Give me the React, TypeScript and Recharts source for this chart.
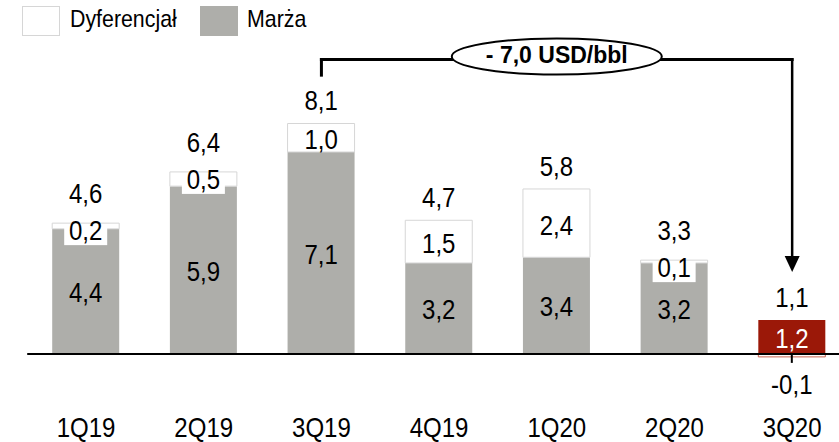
import React from 'react';
import { BarChart, Bar, XAxis, YAxis, Cell, LabelList, ReferenceLine, ReferenceDot } from 'recharts';

// ---- data ----
const categories = ['1Q19', '2Q19', '3Q19', '4Q19', '1Q20', '2Q20', '3Q20'];
const marza = [4.4, 5.9, 7.1, 3.2, 3.4, 3.2, 1.2];
const dyferencjal = [0.2, 0.5, 1.0, 1.5, 2.4, 0.1, -0.1];
const seriesNames = { dyf: 'Dyferencjał', marza: 'Marża' };
const annotationText = '- 7,0 USD/bbl';
const highlightIndex = 6;
const bracketFrom = '3Q19';
const bracketTo = '3Q20';
const ellipseAt = '1Q20';

const data = categories.map((c, i) => ({ quarter: c, marza: marza[i], dyf: dyferencjal[i] }));

// ---- styling ----
const FONT = "'Liberation Sans', Arial, sans-serif";
const SQUISH = 0.89;
const GRAY = '#AEAEAA';
const RED = '#9B1808';
const RED_EDGE = '#C9604E';
const WHITE_EDGE = '#D6D6D6';

// annotation levels (data units)
const BRACKET_Y = 10.35;
const BRACKET_LEFT_END = 9.8;
const ARROW_BASE = 3.44;
const ARROW_TIP = 2.88;

const fmt = (v: number) => v.toFixed(1).replace('.', ',').replace('-0,', '-0,');

function SText({ x, cy, text, size = 27, fill = '#000', weight = 'normal', anchor = 'middle', squish = SQUISH }: any) {
  const baseline = cy + 0.358 * size;
  return (
    <text
      transform={`translate(${x},${baseline}) scale(${squish},1)`}
      textAnchor={anchor}
      fontFamily={FONT}
      fontSize={size}
      fill={fill}
      fontWeight={weight}
    >
      {text}
    </text>
  );
}

const MarzaLabel = (props: any) => {
  const { x, y, width, height, index } = props;
  const v = marza[index];
  const d = dyferencjal[index];
  const top = Math.min(y, y + height);
  const h = Math.abs(height);
  const cx = x + width / 2;
  const ppu = h / Math.abs(v);
  const dPx = Math.max(d, 0) * ppu;
  const stackTop = top - dPx;
  const lift = dPx > 0 && dPx < 20 ? 30 : 23;
  return (
    <g>
      <SText x={cx} cy={top + h / 2 + 1} text={fmt(v)} fill={index === highlightIndex ? '#fff' : '#000'} />
      <SText x={cx} cy={stackTop - lift} text={fmt(v + d)} />
    </g>
  );
};

const DyfLabel = (props: any) => {
  const { x, y, width, height, index } = props;
  const v = dyferencjal[index];
  const top = Math.min(y, y + height);
  const h = Math.abs(height);
  const bottom = top + h;
  const cx = x + width / 2;
  if (v < 0) {
    return (
      <g>
        <line x1={cx} x2={cx} y1={bottom - 3} y2={bottom + 6} stroke="#000" strokeWidth={2} />
        <SText x={cx} cy={bottom + 27} text={fmt(v)} />
      </g>
    );
  }
  if (h < 20) {
    return (
      <g>
        <rect x={cx - 21.5} y={top + 1} width={43} height={21} fill="#fff" />
        <SText x={cx} cy={top + 7} text={fmt(v)} />
      </g>
    );
  }
  return <SText x={cx} cy={top + h / 2 + 2} text={fmt(v)} />;
};

const Tick = (props: any) => {
  const { x, y, payload } = props;
  return <SText x={x} cy={y + 44.5} text={payload.value} />;
};

const ArrowHead = (p: any) => (
  <polygon points={`${p.cx},${p.cy} ${p.cx - 7.5},${p.cy - 16} ${p.cx + 7.5},${p.cy - 16}`} fill="#000" />
);

const EllipseLabel = (p: any) => (
  <g>
    <ellipse cx={p.cx} cy={p.cy - 3} rx={105} ry={18} fill="#fff" stroke="#000" strokeWidth={2} />
    <SText x={p.cx} cy={p.cy - 5} text={annotationText} size={23} weight="bold" squish={1} />
  </g>
);

export default function App() {
  return (
    <div style={{ position: 'absolute', left: 0, top: 0, width: 839, height: 442, overflow: 'hidden', background: '#fff' }}>
      <BarChart
        width={851}
        height={442}
        data={data}
        margin={{ top: 41, right: 0, bottom: 29.5, left: 27.2 }}
        stackOffset="sign"
        barSize={67}
      >
        <XAxis dataKey="quarter" axisLine={false} tickLine={false} tickSize={0} tickMargin={0} height={30} tick={<Tick />} interval={0} />
        <YAxis hide domain={[-1, 11]} allowDataOverflow />
        <Bar dataKey="marza" stackId="a" fill={GRAY} isAnimationActive={false} name={seriesNames.marza}>
          {data.map((_, i) => (
            <Cell key={i} fill={i === highlightIndex ? RED : GRAY} />
          ))}
          <LabelList dataKey="marza" content={<MarzaLabel />} />
        </Bar>
        <Bar dataKey="dyf" stackId="a" fill="#fff" stroke={WHITE_EDGE} strokeWidth={1} isAnimationActive={false} name={seriesNames.dyf}>
          {data.map((_, i) => (
            <Cell key={i} fill="#fff" stroke={i === highlightIndex ? RED_EDGE : WHITE_EDGE} />
          ))}
          <LabelList dataKey="dyf" content={<DyfLabel />} />
        </Bar>
        <ReferenceLine y={0} stroke="#000" strokeWidth={2} />
        <ReferenceLine segment={[{ x: bracketFrom, y: BRACKET_Y }, { x: bracketTo, y: BRACKET_Y }]} stroke="#000" strokeWidth={3} strokeLinecap="square" />
        <ReferenceLine segment={[{ x: bracketFrom, y: BRACKET_Y }, { x: bracketFrom, y: BRACKET_LEFT_END }]} stroke="#000" strokeWidth={3} strokeLinecap="square" />
        <ReferenceLine segment={[{ x: bracketTo, y: BRACKET_Y }, { x: bracketTo, y: ARROW_BASE }]} stroke="#000" strokeWidth={2.5} strokeLinecap="square" />
        <ReferenceDot x={bracketTo} y={ARROW_TIP} r={1} shape={ArrowHead} ifOverflow="visible" />
        <ReferenceDot x={ellipseAt} y={BRACKET_Y} r={1} shape={EllipseLabel} ifOverflow="visible" />
      </BarChart>
      <svg width={839} height={50} style={{ position: 'absolute', left: 0, top: 0 }}>
        <rect x={22.5} y={6.5} width={37} height={29} fill="#fff" stroke={WHITE_EDGE} />
        <SText x={70} cy={18} text={seriesNames.dyf} size={24} anchor="start" />
        <rect x={200} y={6} width={38} height={30} fill={GRAY} />
        <SText x={247} cy={18} text={seriesNames.marza} size={24} anchor="start" />
      </svg>
    </div>
  );
}
